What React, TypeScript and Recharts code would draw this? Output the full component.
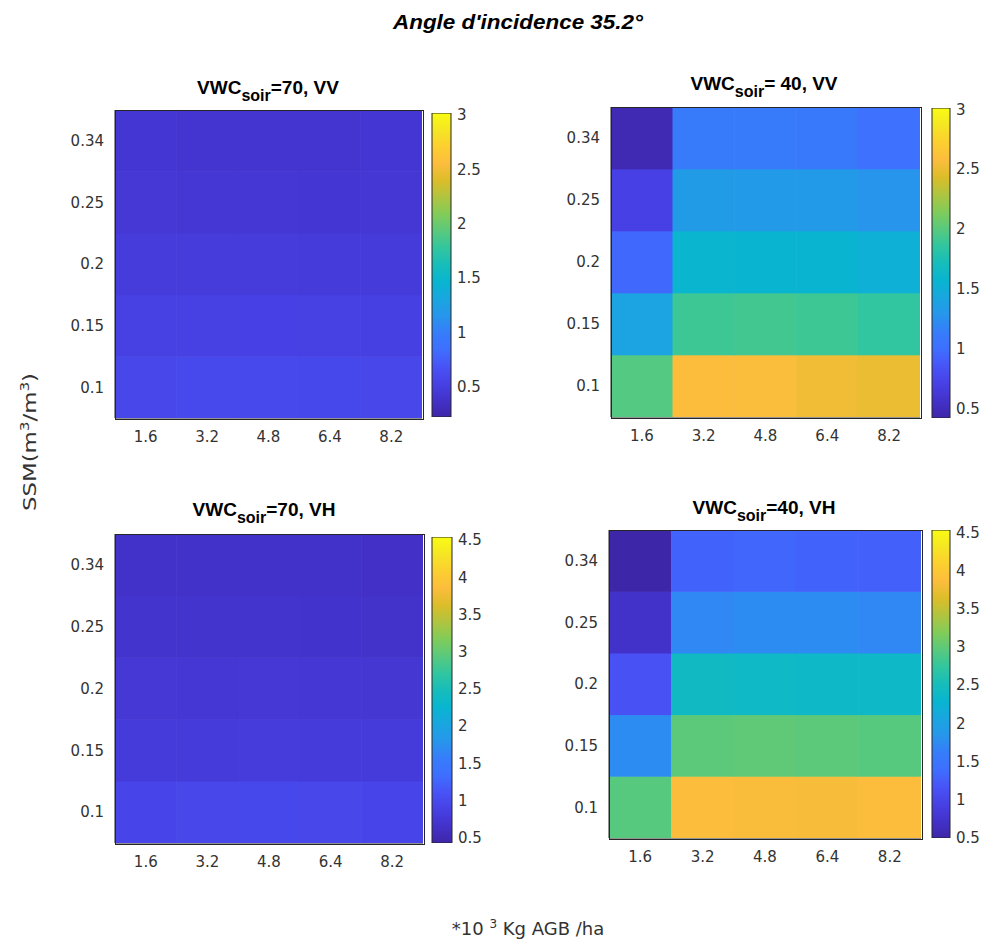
import React from 'react'
import { ScatterChart, Scatter, XAxis, YAxis, BarChart, Bar } from 'recharts'

// axis categories (rows listed bottom -> top)
const xLabels = ['1.6', '3.2', '4.8', '6.4', '8.2']
const yLabels = ['0.1', '0.15', '0.2', '0.25', '0.34']

// cell values, rows 0.1 -> 0.34, columns 1.6 -> 8.2
const vv70 = [
  [0.58, 0.60, 0.60, 0.59, 0.58],
  [0.52, 0.52, 0.53, 0.52, 0.51],
  [0.48, 0.48, 0.48, 0.47, 0.47],
  [0.44, 0.43, 0.43, 0.42, 0.43],
  [0.42, 0.41, 0.41, 0.41, 0.42],
]
const vv40 = [
  [1.98, 2.58, 2.57, 2.53, 2.50],
  [1.40, 1.90, 1.92, 1.90, 1.86],
  [0.96, 1.58, 1.56, 1.56, 1.52],
  [0.70, 1.33, 1.32, 1.32, 1.28],
  [0.47, 1.12, 1.12, 1.10, 1.02],
]
const vh70 = [
  [0.94, 0.96, 0.97, 0.96, 0.94],
  [0.80, 0.79, 0.81, 0.80, 0.79],
  [0.75, 0.74, 0.75, 0.74, 0.73],
  [0.69, 0.69, 0.69, 0.68, 0.67],
  [0.66, 0.66, 0.66, 0.65, 0.64],
]
const vh40 = [
  [2.95, 3.86, 3.84, 3.82, 3.86],
  [1.75, 2.98, 3.00, 2.98, 2.95],
  [1.15, 2.42, 2.40, 2.38, 2.38],
  [0.72, 1.72, 1.75, 1.75, 1.72],
  [0.50, 1.30, 1.32, 1.30, 1.28],
]

const clim70vv = [0.22, 3.02]
const clim40vv = [0.42, 3.01]
const clim70vh = [0.43, 4.54]
const clim40vh = [0.5, 4.53]

const ticksVV = [0.5, 1, 1.5, 2, 2.5, 3]
const ticksVH = [0.5, 1, 1.5, 2, 2.5, 3, 3.5, 4, 4.5]

// parula colormap stops
const PARULA = [
  [62, 38, 168], [67, 50, 202], [71, 65, 229], [72, 84, 246], [62, 111, 255],
  [54, 125, 250], [39, 150, 235], [25, 166, 224], [8, 181, 208], [23, 189, 186],
  [49, 198, 159], [89, 201, 125], [129, 204, 89], [176, 196, 64], [220, 189, 41],
  [252, 189, 61], [252, 207, 48], [245, 230, 36], [249, 251, 20],
]

function parula(t: number) {
  const n = PARULA.length - 1
  const s = Math.max(0, Math.min(1, t)) * n
  const i = Math.min(n - 1, Math.floor(s))
  const f = s - i
  const a = PARULA[i], b = PARULA[i + 1]
  const c = a.map((v, k) => Math.round(v + (b[k] - v) * f))
  return `rgb(${c[0]},${c[1]},${c[2]})`
}

const tickFont = { fontFamily: 'DejaVu Sans', fontSize: 15, fill: '#333' }
const ML = 60
const MB = 40
const PAD = 12

function Heatmap({ grid, clim, left, top, w, h }: any) {
  const pts = grid.flatMap((row: number[], r: number) => row.map((v, c) => ({ x: c, y: r, v })))
  const cw = w / 5
  const ch = h / 5
  const cell = (p: any) => (
    <rect
      x={p.cx - cw / 2 - 0.3}
      y={p.cy - ch / 2 - 0.3}
      width={cw + 0.6}
      height={ch + 0.6}
      fill={parula((p.payload.v - clim[0]) / (clim[1] - clim[0]))}
    />
  )
  return (
    <>
      <div style={{ position: 'absolute', left: left - ML, top: top - 1 }}>
        <ScatterChart width={w + ML + 1} height={h + 1 + MB} margin={{ top: 1, right: 1, bottom: 0, left: 0 }}>
          <XAxis xAxisId="b" type="number" dataKey="x" domain={[-0.5, 4.5]} ticks={[0, 1, 2, 3, 4]}
            tickFormatter={(i: number) => xLabels[i]} height={MB} allowDataOverflow interval={0}
            axisLine={{ stroke: '#262626' }} tickLine={false} tick={tickFont} tickMargin={7} />
          <YAxis yAxisId="l" type="number" dataKey="y" domain={[-0.5, 4.5]} ticks={[0, 1, 2, 3, 4]}
            tickFormatter={(i: number) => yLabels[i]} width={ML} allowDataOverflow interval={0}
            axisLine={{ stroke: '#262626' }} tickLine={false} tick={tickFont} tickMargin={5} />
          <Scatter xAxisId="b" yAxisId="l" data={pts} shape={cell} isAnimationActive={false} />
        </ScatterChart>
      </div>
      {/* axes box */}
      <div style={{ position: 'absolute', left: left - 0.5, top: top - 0.5, width: w, height: h,
        border: '1px solid #262626', pointerEvents: 'none' }} />
    </>
  )
}

function Colorbar({ id, clim, ticks, left, top, w, h }: any) {
  const stops = PARULA.map((_, i) => {
    const t = i / (PARULA.length - 1)
    return <stop key={i} offset={`${t * 100}%`} stopColor={parula(t)} />
  })
  return (
    <div style={{ position: 'absolute', left: left - 1, top: top - PAD }}>
      <BarChart width={w + 1 + 40} height={h + 2 * PAD} data={[{ k: 'c', v: clim }]}
        margin={{ top: PAD, bottom: PAD, left: 1, right: 0 }} barCategoryGap={0}>
        <defs>
          <linearGradient id={id} x1="0" y1="1" x2="0" y2="0">{stops}</linearGradient>
        </defs>
        <XAxis dataKey="k" hide />
        <YAxis orientation="right" type="number" domain={clim} ticks={ticks} width={40} allowDataOverflow
          interval={0} axisLine={false} tickLine={false} tick={{ ...tickFont, textAnchor: 'start' }} tickMargin={0} />
        <Bar dataKey="v" fill={`url(#${id})`} stroke="#262626" isAnimationActive={false} />
      </BarChart>
    </div>
  )
}

function Title({ cx, y, rest }: any) {
  return (
    <text x={cx} y={y} textAnchor="middle" fontFamily="Liberation Sans, Arial" fontWeight="bold" fontSize={19} fill="#000">
      VWC<tspan dy={7} fontSize={16}>soir</tspan><tspan dy={-7}>{rest}</tspan>
    </text>
  )
}

export default function App() {
  return (
    <div style={{ position: 'absolute', left: 0, top: 0, width: 986, height: 945, background: '#fff' }}>
      <Heatmap grid={vv70} clim={clim70vv} left={115} top={110} w={307} h={308} />
      <Heatmap grid={vv40} clim={clim40vv} left={611} top={107} w={309} h={310} />
      <Heatmap grid={vh70} clim={clim70vh} left={115} top={534} w={308} h={309} />
      <Heatmap grid={vh40} clim={clim40vh} left={609} top={530} w={312} h={308} />
      <Colorbar id="cb1" clim={clim70vv} ticks={ticksVV} left={432} top={113} w={19} h={304} />
      <Colorbar id="cb2" clim={clim40vv} ticks={ticksVV} left={932} top={108} w={18} h={310} />
      <Colorbar id="cb3" clim={clim70vh} ticks={ticksVH} left={432} top={537} w={20} h={306} />
      <Colorbar id="cb4" clim={clim40vh} ticks={ticksVH} left={932} top={530} w={18} h={308} />
      <svg width={986} height={945} style={{ position: 'absolute', left: 0, top: 0, pointerEvents: 'none' }}>
        <text x={393} y={29} fontFamily="Liberation Sans, Arial" fontWeight="bold" fontStyle="italic"
          fontSize={20} textLength={250} lengthAdjust="spacingAndGlyphs" fill="#000">
          Angle d'incidence 35.2°
        </text>
        <Title cx={268} y={94} rest="=70, VV" />
        <Title cx={764} y={90} rest="= 40, VV" />
        <Title cx={264} y={516} rest="=70, VH" />
        <Title cx={764} y={514} rest="=40, VH" />
        <text transform="translate(36,442) rotate(-90)" textAnchor="middle" fontFamily="DejaVu Sans"
          fontSize={18} fill="#333" textLength={138} lengthAdjust="spacingAndGlyphs">
          SSM(m<tspan dy={-7} fontSize={12}>3</tspan><tspan dy={7}>/m</tspan><tspan dy={-7} fontSize={12}>3</tspan><tspan dy={7}>)</tspan>
        </text>
        <text x={528} y={935} textAnchor="middle" fontFamily="DejaVu Sans" fontSize={18} fill="#333">
          *10 <tspan dy={-7} fontSize={12}>3</tspan><tspan dy={7}> Kg AGB /ha</tspan>
        </text>
      </svg>
    </div>
  )
}
